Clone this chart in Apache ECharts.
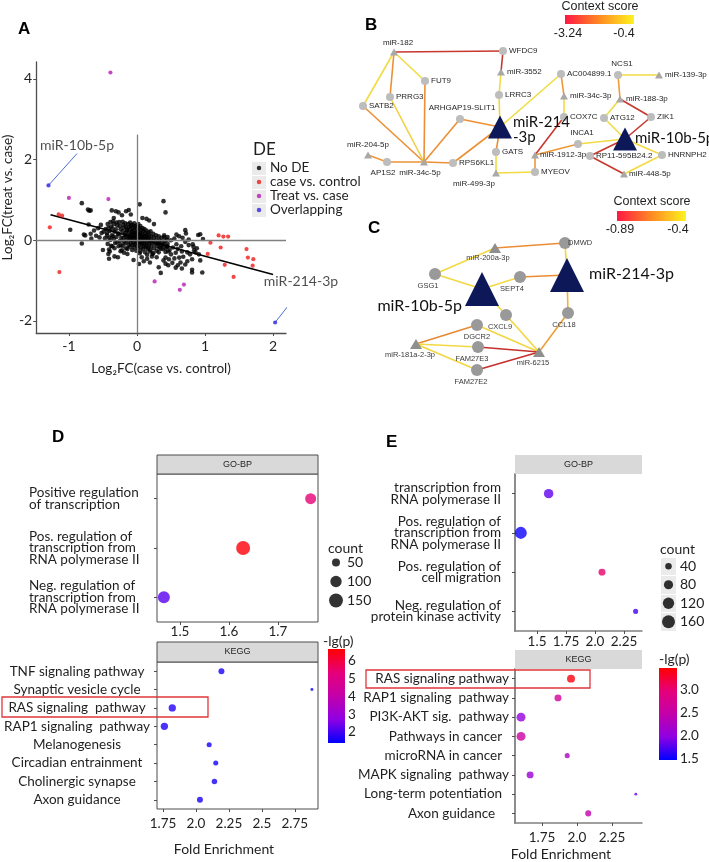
<!DOCTYPE html>
<html><head><meta charset="utf-8">
<script src="https://cdn.jsdelivr.net/npm/echarts@6/dist/echarts.min.js"></script>
<style>html,body{margin:0;padding:0;background:#fff}#c{width:709px;height:862px}</style>
</head><body><div id="c"></div>
<script>
// ================= DATA =================
// Panel A: log2FC(case vs control) , log2FC(treat vs case)
const noDE = [
[-0.98,0.26],[-0.81,0.92],[-0.81,-0.08],[-0.78,0.14],[-0.76,0.12],[-0.72,0.76],[-0.70,0.73],[-0.68,0.74],[-0.68,0.16],[-0.67,0.04],[-0.71,0.39],[-0.63,0.24],[-0.60,0.11],[-0.57,0.30],[-0.53,0.38],[-0.52,0.18],[-0.49,0.21],[-0.50,-0.24],[-0.55,0.07],[-0.47,0.05],[-0.46,0.28],[-0.44,0.12],
[-0.37,0.74],[-0.31,0.72],[-0.27,0.69],[-0.22,0.62],[-0.16,0.72],[-0.12,0.75],[-0.09,0.64],[0.04,0.89],[0.14,0.53],[0.18,0.49],[0.25,0.40],[0.39,0.97],[0.42,0.69],[-0.34,0.55],[0.08,0.55],
[-0.41,-0.23],[-0.41,-0.46],[-0.42,-0.34],[-0.33,-0.40],[-0.28,-0.42],[-0.19,-0.31],[-0.14,-0.34],[-0.05,-0.49],[0.03,-0.59],[0.07,-0.42],[0.15,-0.46],[0.23,-0.34],[0.29,-0.42],[0.32,-0.67],[0.10,-0.52],[0.19,-0.55],[-0.24,-0.27],[-0.36,-0.15],
[-0.43,0.40],[-0.42,0.30],[-0.44,0.18],[-0.41,0.06],[-0.43,-0.09],
[-0.39,0.45],[-0.38,0.34],[-0.40,0.23],[-0.37,0.12],[-0.39,0.01],[-0.38,-0.14],[-0.40,-0.28],
[-0.35,0.47],[-0.34,0.40],[-0.36,0.29],[-0.33,0.21],[-0.35,0.10],[-0.34,0.03],[-0.32,-0.07],[-0.33,-0.20],
[-0.30,0.44],[-0.29,0.37],[-0.31,0.27],[-0.28,0.17],[-0.30,0.08],[-0.29,-0.05],[-0.27,-0.15],
[-0.26,0.45],[-0.25,0.35],[-0.24,0.27],[-0.26,0.15],[-0.23,0.06],[-0.25,-0.02],[-0.24,-0.12],[-0.22,-0.25],
[-0.21,0.46],[-0.20,0.38],[-0.19,0.31],[-0.21,0.22],[-0.18,0.13],[-0.20,0.05],[-0.19,-0.04],[-0.21,-0.14],
[-0.17,0.42],[-0.16,0.33],[-0.15,0.24],[-0.17,0.18],[-0.16,0.09],[-0.15,0.02],[-0.17,-0.08],[-0.16,-0.20],
[-0.13,0.40],[-0.12,0.32],[-0.14,0.25],[-0.12,0.17],[-0.13,0.11],[-0.11,0.04],[-0.13,-0.03],[-0.12,-0.12],[-0.14,-0.22],
[-0.10,0.44],[-0.09,0.36],[-0.10,0.28],[-0.08,0.20],[-0.09,0.13],[-0.10,0.07],[-0.08,0.00],[-0.09,-0.07],[-0.10,-0.16],
[-0.07,0.38],[-0.06,0.30],[-0.07,0.22],[-0.05,0.15],[-0.06,0.09],[-0.07,0.02],[-0.05,-0.05],[-0.06,-0.12],[-0.07,-0.24],
[-0.04,0.42],[-0.03,0.34],[-0.04,0.26],[-0.02,0.18],[-0.03,0.12],[-0.04,0.05],[-0.02,-0.02],[-0.03,-0.10],[-0.04,-0.18],
[-0.01,0.36],[0.00,0.28],[-0.01,0.20],[0.01,0.14],[0.00,0.08],[-0.01,0.01],[0.01,-0.06],[0.00,-0.14],[-0.01,-0.26],
[0.02,0.40],[0.03,0.30],[0.02,0.22],[0.04,0.15],[0.03,0.09],[0.02,0.03],[0.04,-0.04],[0.03,-0.11],[0.02,-0.20],[0.04,-0.32],
[0.05,0.35],[0.06,0.25],[0.05,0.17],[0.07,0.10],[0.06,0.04],[0.05,-0.03],[0.07,-0.10],[0.06,-0.18],[0.05,-0.28],
[0.08,0.30],[0.09,0.22],[0.08,0.14],[0.10,0.07],[0.09,0.00],[0.08,-0.07],[0.10,-0.15],[0.09,-0.22],
[0.11,0.28],[0.12,0.18],[0.11,0.10],[0.13,0.04],[0.12,-0.03],[0.11,-0.10],[0.13,-0.18],[0.12,-0.30],
[0.14,0.24],[0.15,0.15],[0.14,0.08],[0.16,0.01],[0.15,-0.06],[0.14,-0.13],[0.16,-0.22],[0.15,-0.36],
[0.17,0.20],[0.18,0.12],[0.17,0.04],[0.19,-0.03],[0.18,-0.10],[0.17,-0.18],[0.19,-0.28],
[0.20,0.22],[0.21,0.10],[0.20,0.02],[0.22,-0.05],[0.21,-0.14],[0.20,-0.24],[0.22,-0.40],
[0.24,0.16],[0.25,0.06],[0.24,-0.02],[0.26,-0.10],[0.25,-0.20],[0.24,-0.32],
[0.28,0.12],[0.29,0.02],[0.28,-0.06],[0.30,-0.15],[0.29,-0.26],
[0.32,0.10],[0.33,0.00],[0.31,-0.08],[0.33,-0.18],[0.32,-0.30],
[0.36,0.06],[0.37,-0.04],[0.36,-0.12],[0.38,-0.22],
[0.40,0.08],[0.41,-0.02],[0.40,-0.10],[0.42,-0.20],
[0.44,0.02],[0.45,-0.08],[0.44,-0.16],[0.46,-0.28],
[0.33,-0.08],[0.38,-0.12],[0.50,0.00],[0.55,0.04],[0.62,0.10],[0.71,-0.04],[0.71,0.25],[0.72,0.17],[0.90,0.13],[0.93,0.15],[0.97,0.03],[0.84,-0.25],[0.86,-0.30],[0.91,-0.35],[0.81,-0.47],[0.93,-0.50],[0.71,-0.60],[0.81,-0.73],[0.66,-0.70],[0.57,-0.68],[0.52,-0.56],[0.42,-0.58],[0.35,-0.81],[0.96,-0.80],[0.81,-0.80],[0.68,-0.41],[0.62,-0.43],[0.57,-0.31],[0.50,-0.35],[0.42,-0.29],[0.35,-0.21],[0.42,-0.43],[0.45,-0.15],[0.48,-0.24],[0.53,-0.18],[0.58,-0.10],[0.60,-0.22],[0.65,-0.15],[0.66,-0.28],[0.74,-0.30],[0.78,-0.35],[0.76,-0.12],[0.82,-0.10],[0.83,-0.16],[0.88,-0.20],[0.74,-0.52],[0.64,-0.55],[0.47,-0.47],[0.55,-0.45],[0.60,-0.62],[0.46,-0.62],[0.39,-0.50],[0.76,0.02],[0.67,0.06],[0.58,0.14],[0.45,0.08],[0.40,0.12]
];
const caseVsControl = [[-1.15,0.64],[-1.10,0.61],[-1.28,0.32],[-1.14,-0.79],[1.08,-0.06],[1.04,-0.34],[1.20,0.12],[1.27,0.09],[1.34,0.09],[1.23,-0.18],[1.29,-0.61],[1.42,-0.91],[1.61,-0.22],[1.63,-0.43],[1.71,-0.47],[1.70,-0.63]];
const treatVsCase = [[-0.39,4.16],[-1.00,1.05],[-0.42,1.02],[0.26,-1.02],[0.69,-1.10],[0.63,-1.23]];
const overlapping = [[-1.30,1.36],[2.03,-2.04]];
const overlapNames = ['miR-10b-5p','miR-214-3p'];
const annotAnchors = [[-0.88,2.15],[2.41,-1.22]];
const fitLine = [[-1.27,0.63],[2.0,-0.85]];
const aXTicks = [-1,0,1,2];
const aYTicks = [-2,0,2,4];
const deCategories = ['No DE','case vs. control','Treat vs. case','Overlapping'];

// Panel B network
const bNodeNames = ['miR-182','WFDC9','miR-3552','FUT9','AC004899.1','NCS1','miR-139-3p','PRRG3','LRRC3','miR-34c-3p','miR-188-3p','SATB2','ARHGAP19-SLIT1','miR-214-3p','COX7C','ATG12','ZIK1','miR-10b-5p','INCA1','miR-204-5p','AP1S2','miR-34c-5p','RPS6KL1','GATS','miR-1912-3p','RP11-595B24.2','HNRNPH2','miR-499-3p','MYEOV','miR-448-5p'];
const bNodeKinds = ['t','c','t','c','c','c','t','c','c','t','t','c','c','T','c','c','c','T','c','t','c','t','c','c','t','c','c','t','c','t'];
const bEdges = [
['miR-182','WFDC9',-3.0],['miR-182','SATB2',-0.6],['miR-182','PRRG3',-1.8],['miR-182','FUT9',-0.6],
['WFDC9','miR-3552',-3.0],['miR-3552','LRRC3',-0.6],['LRRC3','miR-214-3p',-0.7],['miR-214-3p','AC004899.1',-0.6],
['miR-214-3p','ARHGAP19-SLIT1',-1.8],['miR-214-3p','RPS6KL1',-1.8],['miR-214-3p','GATS',-1.8],['GATS','miR-499-3p',-0.6],
['miR-499-3p','MYEOV',-0.6],['MYEOV','miR-1912-3p',-1.7],['miR-1912-3p','COX7C',-3.0],['miR-1912-3p','INCA1',-1.7],
['INCA1','miR-10b-5p',-0.6],['AC004899.1','miR-34c-3p',-1.7],['miR-34c-3p','COX7C',-0.6],['NCS1','miR-139-3p',-0.6],
['NCS1','miR-188-3p',-1.6],['miR-188-3p','ATG12',-0.6],['miR-188-3p','ZIK1',-3.0],['ATG12','miR-10b-5p',-0.6],
['ZIK1','miR-10b-5p',-3.0],['miR-10b-5p','RP11-595B24.2',-3.0],['miR-10b-5p','HNRNPH2',-0.6],['RP11-595B24.2','miR-448-5p',-3.0],
['miR-448-5p','HNRNPH2',-0.6],['miR-204-5p','AP1S2',-1.7],['AP1S2','miR-34c-5p',-1.8],['miR-34c-5p','RPS6KL1',-1.8],
['miR-34c-5p','SATB2',-1.8],['miR-34c-5p','PRRG3',-0.8],['miR-34c-5p','FUT9',-1.8],['miR-34c-5p','ARHGAP19-SLIT1',-1.8]
];
const bScoreRange = [-3.24,-0.4];

// Panel C network
const cNodeNames = ['miR-200a-3p','DMWD','GSG1','miR-10b-5p','SEPT4','miR-214-3p','CXCL9','CCL18','DGCR2','miR-181a-2-3p','FAM27E3','miR-6215','FAM27E2'];
const cNodeKinds = ['t','c','c','T','c','T','c','c','c','t','c','t','c'];
const cEdges = [
['miR-200a-3p','DMWD',-0.65],['DMWD','miR-214-3p',-0.45],['miR-200a-3p','GSG1',-0.44],['GSG1','miR-10b-5p',-0.44],
['miR-10b-5p','SEPT4',-0.44],['SEPT4','miR-214-3p',-0.65],['miR-10b-5p','CXCL9',-0.44],['miR-214-3p','CCL18',-0.55],
['CXCL9','miR-6215',-0.45],['CCL18','miR-6215',-0.6],['DGCR2','miR-6215',-0.45],['miR-181a-2-3p','DGCR2',-0.66],
['miR-181a-2-3p','FAM27E3',-0.44],['FAM27E3','miR-6215',-0.87],['miR-181a-2-3p','FAM27E2',-0.45],['FAM27E2','miR-6215',-0.87]
];
const cScoreRange = [-0.89,-0.4];

// Panel D
const dGoCats = ['Positive regulation\nof transcription','Pos. regulation of\ntranscription from\nRNA polymerase II','Neg. regulation of\ntranscription from\nRNA polymerase II'];
const dGoFE = [1.767,1.629,1.467];
const dGoCount = [95,153,113];
const dGoLgp = [5.4,6.6,2.2];
const dKeggCats = ['TNF signaling pathway','Synaptic vesicle cycle','RAS signaling  pathway','RAP1 signaling  pathway','Melanogenesis','Circadian entrainment','Cholinergic synapse','Axon guidance'];
const dKeggFE = [2.193,2.88,1.82,1.76,2.10,2.15,2.14,2.03];
const dKeggCount = [28,7,42,42,20,20,24,28];
const dKeggLgp = [1.6,1.5,1.7,1.65,1.55,1.55,1.6,1.6];
const dCountLegend = [50,100,150];
const dGoTicks = [1.5,1.6,1.7];
const dKeggTicks = [1.75,2.0,2.25,2.5,2.75];
const dLgpTicks = [2,3,4,5,6];
const dLgpRange = [1.38,6.68];

// Panel E
const eGoCats = ['transcription from\nRNA polymerase II','Pos. regulation of\ntranscription from\nRNA polymerase II','Pos. regulation of\ncell migration','Neg. regulation of\nprotein kinase activity'];
const eGoFE = [1.60,1.36,2.06,2.35];
const eGoCount = [85,136,46,24];
const eGoLgp = [1.8,1.5,3.04,1.7];
const eKeggCats = ['RAS signaling pathway','RAP1 signaling  pathway','PI3K-AKT sig.  pathway','Pathways in cancer  ','microRNA in cancer  ','MAPK signaling  pathway','Long-term potentiation  ','Axon guidance    '];
const eKeggFE = [1.957,1.864,1.60,1.60,1.93,1.665,2.42,2.08];
const eKeggCount = [60,46,76,76,24,46,8,34];
const eKeggLgp = [3.42,2.67,2.0,2.57,2.27,2.07,1.86,2.43];
const eCountLegend = [40,80,120,160];
const eGoTicks = [1.5,1.75,2.0,2.25];
const eKeggTicks = [1.75,2.0,2.25];
const eLgpTicks = [1.5,2.0,2.5,3.0];
const eLgpRange = [1.46,3.48];

// ================= STYLE / LAYOUT =================
const F = 'Lato, "Open Sans", sans-serif';
const AR = '"Liberation Sans", Arial, sans-serif';
const TXT = '#1f1f1f';
const lgpStops = ['#0000ff','#8f00e3','#c300aa','#e6007a','#ff0000'];
const edgeStops = ['#c0262b','#ec8f35','#f3e844'];
const deColors = ['#000000','#f01a1a','#b81cb4','#2d22e6'];

// network layout (pixel-like layout space)
const bLayout = {
 'miR-182':[394,52,'top',2,4,0],'WFDC9':[503,51,'right',2],'miR-3552':[501,72,'right',2],'FUT9':[425,81,'right',2],
 'AC004899.1':[561,74,'right',2],'NCS1':[618,75,'top',3,4,0],'miR-139-3p':[659,75,'right',2],'PRRG3':[390,97,'right',2],
 'LRRC3':[499,95,'right',2],'miR-34c-3p':[564,96,'right',2],'miR-188-3p':[620,99,'right',2],'SATB2':[363,106,'right',2],
 'ARHGAP19-SLIT1':[460,119,'top',3,2,0],'miR-214-3p':[500,127,'right',1,0,3],'COX7C':[564,117,'right',2],'ATG12':[604,118,'right',2],
 'ZIK1':[651,117,'right',2],'miR-10b-5p':[625,139,'right',-2,0,-1],'INCA1':[578,144,'top',3,4,0],'miR-204-5p':[368,155,'top',3,0,0],
 'AP1S2':[387,162,'bottom',3,-4,0],'miR-34c-5p':[424,162,'bottom',3,-4,0],'RPS6KL1':[453,163,'right',2],'GATS':[496,152,'right',2],
 'miR-1912-3p':[535,155,'right',1],'RP11-595B24.2':[590,156,'right',2],'HNRNPH2':[662,155,'right',2],'miR-499-3p':[496,173,'bottom',3,-22,0],
 'MYEOV':[535,172,'right',2],'miR-448-5p':[624,174,'right',1]
};
const cLayout = {
 'miR-200a-3p':[495,248,'bottom',1,-7,0],'DMWD':[565,243,'right',-3],'GSG1':[435,274,'bottom',2,-7,0],
 'miR-10b-5p':[482,289,'left',3,0,17],'SEPT4':[520,277,'bottom',2,-8,0],'miR-214-3p':[567,275,'right',5,0,-1],
 'CXCL9':[506,315,'bottom',2,-6,0],'CCL18':[568,313,'bottom',2,-4,0],'DGCR2':[477,325,'bottom',2,0,0],
 'miR-181a-2-3p':[416,344,'bottom',2,-6,0],'FAM27E3':[478,347,'bottom',2,-6,0],'miR-6215':[539,352,'bottom',2,-6,0],
 'FAM27E2':[477,370,'bottom',2,-6,0]
};
const bDisplay = {'miR-214-3p':'miR-214\n-3p'};

function hex(h){return [parseInt(h.slice(1,3),16),parseInt(h.slice(3,5),16),parseInt(h.slice(5,7),16)];}
function lerpColor(stops,t){t=Math.max(0,Math.min(1,t));const n=stops.length-1;const i=Math.min(n-1,Math.floor(t*n));const f=t*n-i;const a=hex(stops[i]),b=hex(stops[i+1]);return 'rgb('+[0,1,2].map(k=>Math.round(a[k]+(b[k]-a[k])*f)).join(',')+')';}

function graphSeries(names,kinds,layout,edges,range,sty,display){
  return {type:'graph',coordinateSystem:'cartesian2d',xAxisIndex:2,yAxisIndex:2,layout:'none',silent:true,
    data:names.map((n,i)=>{const L=layout[n];const k=kinds[i];
      return {name:n,value:[L[0],L[1]],symbol:k==='c'?'circle':'triangle',symbolSize:sty.size[k],itemStyle:{color:sty.color[k]},
        label:Object.assign({show:true,position:L[2],distance:L[3],offset:[L[4]||0,L[5]||0],
          formatter:(display&&display[n])?display[n]:n},k==='T'?sty.big:sty.small)};}),
    links:edges.map(e=>({source:e[0],target:e[1],lineStyle:{color:lerpColor(edgeStops,(e[2]-range[0])/(range[1]-range[0])),width:1.6,opacity:1}})),
    lineStyle:{width:1.6,opacity:1,curveness:0},edgeSymbol:['none','none'],emphasis:{disabled:true},z:3};
}
const fmtDec = v => (Math.abs(v-Math.round(v))<1e-9) ? v.toFixed(1) : String(v);
const sizeD = v => 1.13*Math.sqrt(v[2]);
const sizeE = v => 1.03*Math.sqrt(v[2]);

// ================= OPTION =================
const series=[];
function add(s){series.push(Object.assign({animation:false},s));return series.length-1;}

// Panel A
add({type:'scatter',xAxisIndex:0,yAxisIndex:0,data:[],silent:true,
  markLine:{silent:true,symbol:'none',label:{show:false},lineStyle:{color:'#808080',width:1.3,type:'solid'},
    data:[{yAxis:0},[{coord:[0,-2.3]},{coord:[0,2.62]}]]}});
add({type:'scatter',xAxisIndex:0,yAxisIndex:0,data:noDE,symbolSize:4.6,itemStyle:{color:deColors[0]},silent:true,z:2});
add({type:'scatter',xAxisIndex:0,yAxisIndex:0,data:caseVsControl,symbolSize:4.2,itemStyle:{color:deColors[1]},silent:true,z:3});
add({type:'scatter',xAxisIndex:0,yAxisIndex:0,data:treatVsCase,symbolSize:4.2,itemStyle:{color:deColors[2]},silent:true,z:3});
add({type:'scatter',xAxisIndex:0,yAxisIndex:0,data:overlapping,symbolSize:4.2,itemStyle:{color:deColors[3]},silent:true,z:4});
add({type:'line',xAxisIndex:0,yAxisIndex:0,data:fitLine,symbol:'none',lineStyle:{color:'#000',width:1.6},silent:true,z:3});
overlapping.forEach((p,i)=>add({type:'line',xAxisIndex:0,yAxisIndex:0,data:[p,annotAnchors[i]],symbol:'none',clip:false,
  lineStyle:{color:'#4d6fd6',width:1},silent:true}));
add({type:'scatter',xAxisIndex:0,yAxisIndex:0,clip:false,symbolSize:0.1,silent:true,
  data:annotAnchors.map((a,i)=>({value:a,name:overlapNames[i]})),
  label:{show:true,position:'top',distance:1,formatter:'{b}',fontSize:14,fontFamily:F,color:TXT}});
// Panel A legend
add({type:'scatter',xAxisIndex:1,yAxisIndex:1,symbolSize:4.5,silent:true,
  data:deCategories.map((c,i)=>({value:[0,c],itemStyle:{color:deColors[i]}}))});

// Networks
add(graphSeries(bNodeNames,bNodeKinds,bLayout,bEdges,bScoreRange,{
  size:{c:8,t:[8,7],T:[24,23]},color:{c:'#bdbdbd',t:'#a8a8a8',T:'#0c1858'},
  small:{fontSize:8,fontFamily:AR,color:'#262626'},
  big:{fontSize:15,fontFamily:F,color:'#111',lineHeight:15,align:'left'}},bDisplay));
add(graphSeries(cNodeNames,cNodeKinds,cLayout,cEdges,cScoreRange,{
  size:{c:12,t:[12,10],T:[34,34]},color:{c:'#999999',t:'#8f8f8f',T:'#0c1858'},
  small:{fontSize:7.5,fontFamily:AR,color:'#3a3a3a'},
  big:{fontSize:16,fontFamily:F,color:'#111'}}));

// Panel D / E scatters
const iDGo = add({type:'scatter',xAxisIndex:3,yAxisIndex:3,symbolSize:sizeD,silent:true,
  data:dGoCats.map((c,i)=>[dGoFE[i],c,dGoCount[i],dGoLgp[i]])});
const iDKegg = add({type:'scatter',xAxisIndex:4,yAxisIndex:4,symbolSize:sizeD,silent:true,
  data:dKeggCats.map((c,i)=>[dKeggFE[i],c,dKeggCount[i],dKeggLgp[i]])});
const iEGo = add({type:'scatter',xAxisIndex:5,yAxisIndex:5,symbolSize:sizeE,silent:true,
  data:eGoCats.map((c,i)=>[eGoFE[i],c,eGoCount[i],eGoLgp[i]])});
const iEKegg = add({type:'scatter',xAxisIndex:6,yAxisIndex:6,symbolSize:sizeE,silent:true,
  data:eKeggCats.map((c,i)=>[eKeggFE[i],c,eKeggCount[i],eKeggLgp[i]])});
// count legends
add({type:'scatter',xAxisIndex:7,yAxisIndex:7,symbolSize:sizeD,silent:true,itemStyle:{color:'#000'},
  data:dCountLegend.map(v=>[0,String(v),v])});
add({type:'scatter',xAxisIndex:8,yAxisIndex:8,symbolSize:sizeE,silent:true,itemStyle:{color:'#000'},
  data:eCountLegend.map(v=>[0,String(v),v])});
// colorbars
function barGrad(){return new echarts.graphic.LinearGradient(0,0,0,1,lgpStops.slice().reverse().map((c,i,a)=>({offset:i/(a.length-1),color:c})));}
add({type:'bar',xAxisIndex:9,yAxisIndex:9,data:[dLgpRange[1]],barWidth:'100%',silent:true,itemStyle:{color:barGrad()}});
add({type:'bar',xAxisIndex:10,yAxisIndex:10,data:[eLgpRange[1]],barWidth:'100%',silent:true,itemStyle:{color:barGrad()}});

const axisGray='#4d4d4d';
const hiddenX=(g,min,max)=>({gridIndex:g,type:'value',show:false,min,max});
const lblBase={fontSize:13.5,fontFamily:F,color:TXT};
function enrichX(g,min,max,ticks,margin,name,namePad,frame){
  return {gridIndex:g,type:'value',min,max,splitLine:{show:false},
    axisLine:{show:!frame,onZero:false,lineStyle:{color:'#808080',width:1.5}},
    axisTick:{show:true,customValues:ticks,length:3,lineStyle:{color:axisGray}},
    axisLabel:Object.assign({customValues:ticks,formatter:fmtDec,margin},lblBase),
    name:name||'',nameLocation:'middle',nameGap:name?(frame?33:24):0,
    nameTextStyle:{fontSize:14,fontFamily:F,color:TXT,padding:namePad||0}};
}
function enrichY(g,cats,frame,labelCfg){
  return {gridIndex:g,type:'category',data:cats,inverse:true,
    axisLine:{show:!frame,lineStyle:{color:'#808080',width:1.8}},
    axisTick:{show:true,alignWithLabel:true,length:3,lineStyle:{color:axisGray}},
    axisLabel:Object.assign({interval:0},labelCfg),splitLine:{show:false}};
}
const richLeft=w=>({formatter:v=>v.split('\n').map(s=>'{l|'+s+'}').join('\n'),
  rich:{l:{width:w,align:'left',fontSize:13.5,lineHeight:11.5,fontFamily:F,color:TXT}}});

const xAxis=[
  {gridIndex:0,type:'value',min:-1.48,max:2.19,splitLine:{show:false},
   axisLine:{onZero:false,lineStyle:{color:axisGray,width:1.3}},
   axisTick:{customValues:aXTicks,length:3,lineStyle:{color:axisGray}},
   axisLabel:{customValues:aXTicks,fontSize:14,fontFamily:F,color:TXT,margin:6},
   name:'Log\u2082FC(case vs. control)',nameLocation:'middle',nameGap:29,nameTextStyle:{fontSize:13.5,fontFamily:F,color:TXT}},
  hiddenX(1,-1,1),
  hiddenX(2,290,709),
  enrichX(3,1.453,1.782,dGoTicks,3,'',0,true),
  enrichX(4,1.704,2.926,dKeggTicks,8,'Fold Enrichment',[0,27,0,0],true),
  enrichX(5,1.31,2.405,eGoTicks,4,'',0,false),
  enrichX(6,1.557,2.464,eKeggTicks,8,'Fold Enrichment',[0,35,0,0],false),
  hiddenX(7,-1,1),hiddenX(8,-1,1),
  {gridIndex:9,type:'category',data:['c'],show:false},
  {gridIndex:10,type:'category',data:['c'],show:false}
];
const yAxis=[
  {gridIndex:0,type:'value',min:-2.3,max:4.42,splitLine:{show:false},
   axisLine:{onZero:false,lineStyle:{color:axisGray,width:1.3}},
   axisTick:{customValues:aYTicks,length:3,lineStyle:{color:axisGray}},
   axisLabel:{customValues:aYTicks,fontSize:14,fontFamily:F,color:TXT,margin:4},
   name:'Log\u2082FC(treat vs. case)',nameLocation:'middle',nameGap:15,nameTextStyle:{fontSize:13.5,fontFamily:F,color:TXT}},
  {gridIndex:1,type:'category',data:deCategories,inverse:true,position:'right',
   axisLine:{show:false},axisTick:{show:false},
   axisLabel:{interval:0,margin:4,fontSize:13.5,fontFamily:F,color:TXT},
   splitArea:{show:true,interval:0,areaStyle:{color:['#ebebeb','#ebebeb']}},
   splitLine:{show:true,interval:0,lineStyle:{color:'#fff',width:1}}},
  {gridIndex:2,type:'value',show:false,min:0,max:400,inverse:true},
  enrichY(3,dGoCats,true,Object.assign({margin:10},richLeft(118))),
  enrichY(4,dKeggCats,true,{margin:7,formatter:v=>'{c|'+v+'}',rich:{c:{width:146,align:'center',fontSize:13.5,fontFamily:F,color:TXT}}}),
  enrichY(5,eGoCats,false,Object.assign({margin:14,lineHeight:11.5},lblBase)),
  enrichY(6,eKeggCats,false,Object.assign({margin:6},lblBase)),
  {gridIndex:7,type:'category',data:dCountLegend.map(String),inverse:true,position:'right',
   axisLine:{show:false},axisTick:{show:false},axisLabel:Object.assign({interval:0,margin:5},lblBase,{fontSize:14})},
  {gridIndex:8,type:'category',data:eCountLegend.map(String),inverse:true,position:'right',
   axisLine:{show:false},axisTick:{show:false},axisLabel:Object.assign({interval:0,margin:4},lblBase,{fontSize:14}),
   splitArea:{show:true,interval:0,areaStyle:{color:['#ebebeb','#ebebeb']}},
   splitLine:{show:true,interval:0,lineStyle:{color:'#fff',width:1}}},
  {gridIndex:9,type:'value',min:dLgpRange[0],max:dLgpRange[1],position:'right',splitLine:{show:false},
   axisLine:{show:false},axisTick:{show:true,customValues:dLgpTicks,inside:true,length:3,lineStyle:{color:'#fff'}},
   axisLabel:Object.assign({customValues:dLgpTicks,margin:3},lblBase)},
  {gridIndex:10,type:'value',min:eLgpRange[0],max:eLgpRange[1],position:'right',splitLine:{show:false},
   axisLine:{show:false},axisTick:{show:true,customValues:eLgpTicks,inside:true,length:3,lineStyle:{color:'#fff'}},
   axisLabel:Object.assign({customValues:eLgpTicks,margin:3,formatter:fmtDec},lblBase)}
];
const frame={show:true,borderColor:axisGray,borderWidth:1,backgroundColor:'transparent'};
const grid=[
  {left:33,top:62,width:253,height:271},
  {left:252,top:161,width:14,height:56},
  {left:290,top:0,width:419,height:400},
  Object.assign({left:157,top:474,width:161,height:148},frame),
  Object.assign({left:157,top:662,width:161,height:147},frame),
  {left:515,top:474,width:127,height:157},
  {left:515,top:669,width:127,height:156},
  {left:330,top:553,width:12,height:57},
  {left:661,top:557,width:15,height:74},
  {left:328,top:649,width:17,height:94},
  {left:659,top:668,width:18,height:92}
];

function T(x,y,text,font,align,fill){return {type:'text',x,y,silent:true,z:10,style:{text,font,fill:fill||TXT,align:align||'left',verticalAlign:'middle',textAlign:align||'left',textVerticalAlign:'middle'}};}
function R(x,y,w,h,fill,stroke,lw){return {type:'rect',silent:true,z:1,shape:{x,y,width:w,height:h},style:{fill:fill||'none',stroke:stroke||null,lineWidth:lw||1}};}
const ctxGrad=()=>new echarts.graphic.LinearGradient(0,0,1,0,[{offset:0,color:'#ff1744'},{offset:0.5,color:'#ff8a22'},{offset:1,color:'#fff31f'}]);
const graphic=[
  T(18,29,'A','bold 17px '+AR,'left','#000'),
  T(365,25,'B','bold 17px '+AR,'left','#000'),
  T(368,228,'C','bold 17px '+AR,'left','#000'),
  T(52,437,'D','bold 17px '+AR,'left','#000'),
  T(386,442,'E','bold 17px '+AR,'left','#000'),
  T(253,150,'DE','17px '+F),
  // context score legends
  T(600,7,'Context score','12.5px '+AR,'center'),
  Object.assign(R(565,15,69,9),{style:{fill:ctxGrad()}}),
  T(568,34,'-3.24','12.5px '+AR,'center'),
  T(624,34,'-0.4','12.5px '+AR,'center'),
  T(652,202,'Context score','12.5px '+AR,'center'),
  Object.assign(R(617,211,69,10),{style:{fill:ctxGrad()}}),
  T(620,230,'-0.89','12.5px '+AR,'center'),
  T(678,230,'-0.4','12.5px '+AR,'center'),
  // strips
  R(157,455,161,19,'#d9d9d9',axisGray,1), T(237.5,464.5,'GO-BP','9px '+AR,'center'),
  R(157,642,161,20,'#d9d9d9',axisGray,1), T(237.5,652,'KEGG','9px '+AR,'center'),
  R(515,455,127,19,'#d9d9d9'), T(578.5,464.5,'GO-BP','9px '+AR,'center'),
  R(515,650,127,19,'#d9d9d9'), T(578.5,659.5,'KEGG','9px '+AR,'center'),
  // legend titles
  T(328,548,'count','14px '+F), T(660,549,'count','14px '+F),
  T(323,641,'-lg(p)','14px '+F), T(659,659,'-lg(p)','14px '+F),
  // highlight boxes
  R(2,697,206,20,'none','#e0373b',1.3),
  R(366,670,224,18,'none','#e0373b',1.3)
];

const option={animation:false,backgroundColor:'#fff',grid,xAxis,yAxis,series,graphic,
  visualMap:[
    {type:'continuous',show:false,seriesIndex:[iDGo,iDKegg],dimension:3,min:dLgpRange[0],max:dLgpRange[1],inRange:{color:lgpStops}},
    {type:'continuous',show:false,seriesIndex:[iEGo,iEKegg],dimension:3,min:eLgpRange[0],max:eLgpRange[1],inRange:{color:lgpStops}}
  ]};
const chart=echarts.init(document.getElementById('c'),null,{renderer:'canvas'});
chart.setOption(option);
</script></body></html>
